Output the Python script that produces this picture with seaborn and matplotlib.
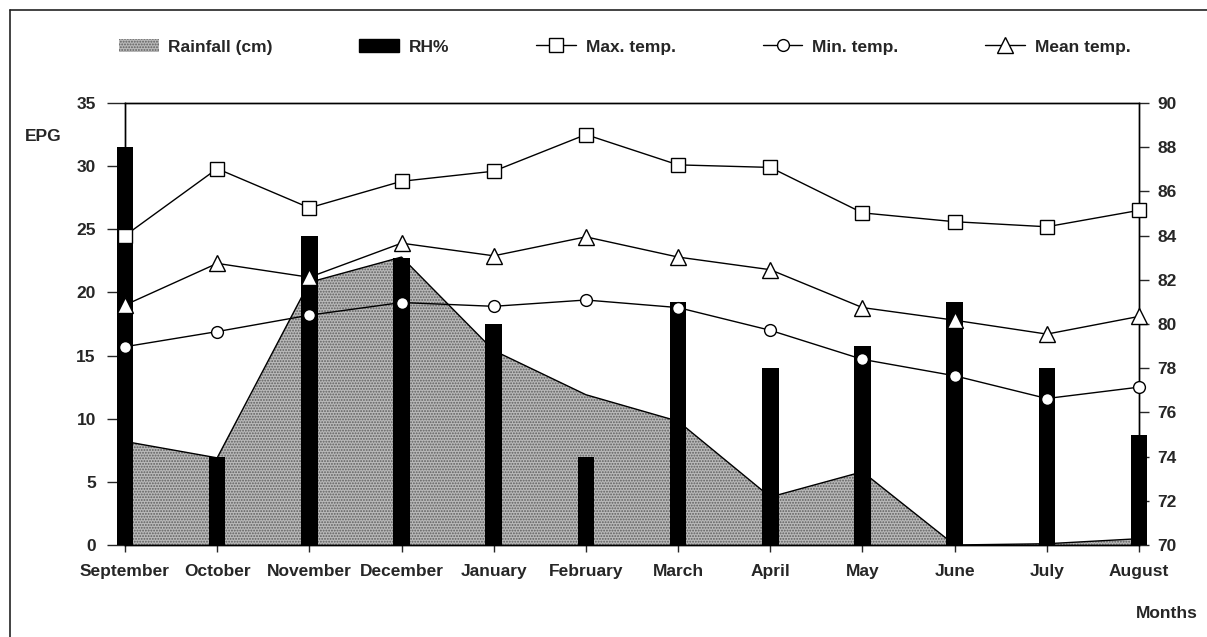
import numpy as np
import pandas as pd
import matplotlib
matplotlib.use("Agg")
import matplotlib.pyplot as plt
import seaborn as sns
from matplotlib.patches import Patch, Rectangle
from matplotlib.lines import Line2D

# monthly data
months = ['September', 'October', 'November', 'December', 'January', 'February',
          'March', 'April', 'May', 'June', 'July', 'August']
rainfall = [8.2, 6.9, 20.8, 22.8, 15.4, 11.9, 9.8, 3.8, 5.8, 0.0, 0.1, 0.5]
rh = [88, 74, 84, 83, 80, 74, 81, 78, 79, 81, 78, 75]
max_temp = [24.5, 29.8, 26.7, 28.8, 29.6, 32.5, 30.1, 29.9, 26.3, 25.6, 25.2, 26.5]
min_temp = [15.7, 16.9, 18.2, 19.2, 18.9, 19.4, 18.8, 17.0, 14.7, 13.4, 11.6, 12.5]
mean_temp = [19.0, 22.3, 21.2, 23.9, 22.9, 24.4, 22.8, 21.8, 18.8, 17.8, 16.7, 18.1]

df = pd.DataFrame({'pos': np.arange(len(months)), 'month': months, 'rain': rainfall,
                   'rh': rh, 'max': max_temp, 'min': min_temp, 'mean': mean_temp})

sns.set_style("white")
plt.rcParams['font.family'] = ['Liberation Sans', 'DejaVu Sans']
plt.rcParams['font.weight'] = 'bold'
plt.rcParams['hatch.linewidth'] = 0.9

rain_face = '#b9b9b9'
rain_dots = '#5e5e5e'

W, H = 1207, 637
fig = plt.figure(figsize=(W / 100, H / 100), dpi=100)
ax = fig.add_axes([125 / W, 1 - 545 / H, (1139 - 125) / W, (545 - 103) / H])

# rainfall area (left axis)
ax.fill_between(df['pos'], df['rain'], 0, facecolor=rain_face, hatch='......',
                edgecolor=rain_dots, linewidth=0, zorder=1)
sns.lineplot(data=df, x='pos', y='rain', color='black', linewidth=1, ax=ax, zorder=2)
ax.set_ylim(0, 35)
ax.set_xlim(0, len(months) - 1)
ax.set_yticks(np.arange(0, 36, 5))
ax.set_xticks(df['pos'])
ax.set_xticklabels(months)
ax.set_xlabel('')
ax.set_ylabel('')
for s in ax.spines.values():
    s.set_color('black')
    s.set_linewidth(1)
ax.tick_params(axis='y', left=True, direction='out', length=13, width=1, pad=8, labelsize=12.5)
ax.tick_params(axis='x', bottom=True, direction='out', length=5, width=1, pad=9, labelsize=12.5)

# RH% bars (right axis)
ax2 = ax.twinx()
sns.barplot(data=df, x='pos', y='rh', native_scale=True, width=0.18, color='black',
            saturation=1, errorbar=None, linewidth=0, ax=ax2)
clip = Rectangle((-0.02, 0), 1.04, 1, transform=ax2.transAxes)
for p in ax2.patches:
    p.set_clip_path(clip)
ax2.set_ylim(70, 90)
ax2.set_yticks(np.arange(70, 91, 2))
ax2.set_xlim(0, len(months) - 1)
ax2.set_ylabel('')
ax2.set_xlabel('')
for s in ax2.spines.values():
    s.set_color('black')
    s.set_linewidth(1)
ax2.tick_params(axis='y', right=True, direction='out', length=7, width=1, pad=6, labelsize=12.5)

# temperature lines (left axis scale)
ax3 = ax.twinx()
sns.lineplot(data=df, x='pos', y='max', marker='s', markersize=10, color='black',
             markerfacecolor='white', markeredgecolor='black', markeredgewidth=1,
             linewidth=1, ax=ax3)
sns.lineplot(data=df, x='pos', y='min', marker='o', markersize=8.5, color='black',
             markerfacecolor='white', markeredgecolor='black', markeredgewidth=1,
             linewidth=1, ax=ax3)
sns.lineplot(data=df, x='pos', y='mean', marker='^', markersize=11, color='black',
             markerfacecolor='white', markeredgecolor='black', markeredgewidth=1,
             linewidth=1, ax=ax3)
ax3.set_ylim(0, 35)
ax3.set_xlim(0, len(months) - 1)
ax3.axis('off')
for l in ax3.lines:
    l.set_clip_on(False)

fig.text(43 / W, 1 - 136 / H, 'EPG', ha='center', va='center', fontsize=12.5, fontweight='bold')
fig.text(1167 / W, 1 - 614 / H, 'Months', ha='center', va='center', fontsize=12.5, fontweight='bold')

handles = [
    Patch(facecolor=rain_face, hatch='......', edgecolor=rain_dots, linewidth=0, label='Rainfall (cm)'),
    Patch(facecolor='black', edgecolor='black', label='RH%'),
    Line2D([], [], color='black', lw=1, marker='s', markersize=10, markerfacecolor='white',
           markeredgecolor='black', label='Max. temp.'),
    Line2D([], [], color='black', lw=1, marker='o', markersize=8.5, markerfacecolor='white',
           markeredgecolor='black', label='Min. temp.'),
    Line2D([], [], color='black', lw=1, marker='^', markersize=11, markerfacecolor='white',
           markeredgecolor='black', label='Mean temp.'),
]
fig.legend(handles=handles, loc='center left', bbox_to_anchor=(110 / W, 1 - 47 / H), ncol=5,
           frameon=False, borderpad=0, handlelength=2.3, handleheight=0.8, handletextpad=0.55,
           columnspacing=5.0, prop={'size': 12.5, 'weight': 'bold'})

# outer frame (left and top edges)
fig.add_artist(Line2D([10 / W, 10 / W], [0, 1 - 10 / H], color='#222222', lw=1.2))
fig.add_artist(Line2D([10 / W, 1], [1 - 10 / H, 1 - 10 / H], color='#222222', lw=1.2))

fig.savefig('out.png', dpi=100)
